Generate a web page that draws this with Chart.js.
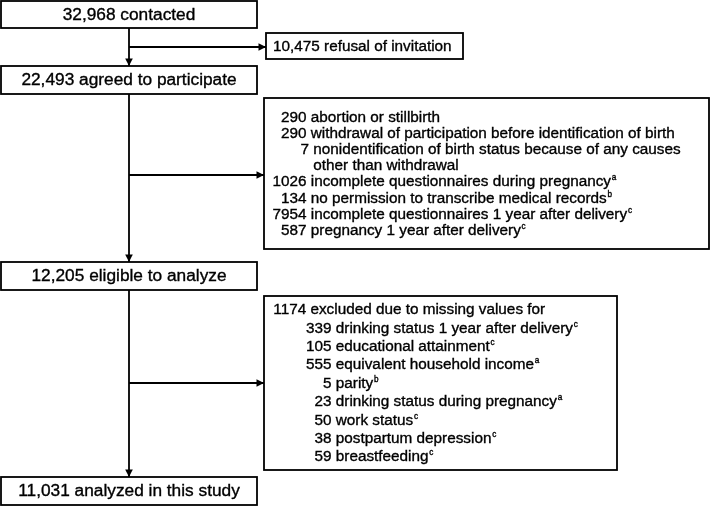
<!DOCTYPE html>
<html>
<head>
<meta charset="utf-8">
<script src="https://cdn.jsdelivr.net/npm/chart.js@4.4.1/dist/chart.umd.min.js"></script>
<style>
  html, body { margin:0; padding:0; background:#fff; }
  #wrap { width:710px; height:506px; }
</style>
</head>
<body>
<div id="wrap"><canvas id="flow" width="710" height="506"></canvas></div>
<script>
// --- data ---
const stepCounts = ['32,968', '22,493', '12,205', '11,031'];
const stepLabels = ['contacted', 'agreed to participate', 'eligible to analyze', 'analyzed in this study'];

const refusalCount = '10,475';
const refusalLabel = 'refusal of invitation';

const excl1Counts = ['290', '290', '7', '', '1026', '134', '7954', '587'];
const excl1Labels = [
  'abortion or stillbirth',
  'withdrawal of participation before identification of birth',
  'nonidentification of birth status because of any causes',
  'other than withdrawal',
  'incomplete questionnaires during pregnancy',
  'no permission to transcribe medical records',
  'incomplete questionnaires 1 year after delivery',
  'pregnancy 1 year after delivery',
];
const excl1Notes = ['', '', '', '', 'a', 'b', 'c', 'c'];

const excl2Total = '1174';
const excl2Title = 'excluded due to missing values for';
const excl2Counts = ['339', '105', '555', '5', '23', '50', '38', '59'];
const excl2Labels = [
  'drinking status 1 year after delivery',
  'educational attainment',
  'equivalent household income',
  'parity',
  'drinking status during pregnancy',
  'work status',
  'postpartum depression',
  'breastfeeding',
];
const excl2Notes = ['c', 'c', 'a', 'b', 'a', 'c', 'c', 'c'];

// --- layout (in scale units, 1 unit = 1px) ---
const W = 710, H = 506;
const spineX = 129;
const stepBoxes = [[1, 1, 257, 28], [1, 66, 257, 94], [1, 262, 257, 290], [1, 477, 257, 505]];
const refusalBox = [266, 33, 463, 59];
const excl1Box = [264, 98, 709, 249];
const excl2Box = [264, 296, 617, 470];
const branchY = [47, 175, 383];

const FONT = 'Arial, "Liberation Sans", Helvetica, sans-serif';
const BIG = 17.3, SMALL = 15.3, SUP = 8.2;

// connectors as line datasets: spine pieces + branches
const connectors = [
  [[spineX, 28], [spineX, 66]],
  [[spineX, 94], [spineX, 262]],
  [[spineX, 290], [spineX, 477]],
  [[spineX, branchY[0]], [refusalBox[0], branchY[0]]],
  [[spineX, branchY[1]], [excl1Box[0], branchY[1]]],
  [[spineX, branchY[2]], [excl2Box[0], branchY[2]]],
];

// slightly heavier text, like the original print
function put(ctx, str, x, y) {
  ctx.fillText(str, x, y);
  ctx.strokeText(str, x, y);
}

function textWithNote(ctx, str, note, x, y) {
  ctx.font = `${SMALL}px ${FONT}`;
  put(ctx, str, x, y);
  if (!note) return;
  const w = ctx.measureText(str).width;
  ctx.font = `${SUP}px ${FONT}`;
  put(ctx, note, x + w + 0.8, y - 4);
}

const flowPlugin = {
  id: 'flow',
  beforeDraw(chart) {
    const c = chart.ctx;
    c.save();
    c.fillStyle = '#fff';
    c.fillRect(0, 0, chart.width, chart.height);
    c.restore();
  },
  afterDatasetsDraw(chart) {
    const c = chart.ctx;
    const xs = chart.scales.x, ys = chart.scales.y;
    const px = v => xs.getPixelForValue(v);
    const py = v => ys.getPixelForValue(v);

    c.save();
    // arrowheads at the end of every connector
    c.fillStyle = '#000';
    chart.data.datasets.forEach((ds, i) => {
      const pts = chart.getDatasetMeta(i).data;
      const a = pts[pts.length - 2], b = pts[pts.length - 1];
      const ang = Math.atan2(b.y - a.y, b.x - a.x);
      const L = 7.5, hw = 3.8;
      c.beginPath();
      c.moveTo(b.x, b.y);
      c.lineTo(b.x - L * Math.cos(ang) + hw * Math.sin(ang), b.y - L * Math.sin(ang) - hw * Math.cos(ang));
      c.lineTo(b.x - L * Math.cos(ang) - hw * Math.sin(ang), b.y - L * Math.sin(ang) + hw * Math.cos(ang));
      c.closePath();
      c.fill();
    });

    // boxes
    c.strokeStyle = '#000';
    c.lineWidth = 1.8;
    [...stepBoxes, refusalBox, excl1Box, excl2Box].forEach(([x0, y0, x1, y1]) => {
      c.strokeRect(px(x0), py(y0), px(x1) - px(x0), py(y1) - py(y0));
    });

    c.fillStyle = '#000';
    c.strokeStyle = '#000';
    c.lineWidth = 0.35;
    c.textBaseline = 'middle';

    // main steps
    c.font = `${BIG}px ${FONT}`;
    c.textAlign = 'center';
    stepBoxes.forEach(([x0, y0, x1, y1], i) => {
      put(c, `${stepCounts[i]} ${stepLabels[i]}`, px((x0 + x1) / 2), py((y0 + y1) / 2) + 0.5);
    });

    // refusal
    c.font = `${SMALL}px ${FONT}`;
    c.textAlign = 'left';
    put(c, `${refusalCount} ${refusalLabel}`, px(273), py((refusalBox[1] + refusalBox[3]) / 2) + 0.5);

    // first exclusion box: counts right aligned, text after
    const num1 = 306.5, line1 = 16.2, top1 = 117.3;
    excl1Labels.forEach((lab, i) => {
      const y = py(top1 + i * line1);
      // the "7" entry and its wrapped line sit a little to the right
      const indent = (excl1Counts[i] === '7' || excl1Counts[i] === '') ? 2.5 : 0;
      c.font = `${SMALL}px ${FONT}`;
      c.textAlign = 'right';
      if (excl1Counts[i]) put(c, excl1Counts[i], px(num1 + indent), y);
      c.textAlign = 'left';
      textWithNote(c, lab, excl1Notes[i], px(num1 + 4.3 + indent), y);
    });

    // second exclusion box
    const top2 = 310, line2 = 18.4, num2 = 331.5;
    c.font = `${SMALL}px ${FONT}`;
    c.textAlign = 'left';
    put(c, `${excl2Total} ${excl2Title}`, px(273.3), py(top2));
    excl2Labels.forEach((lab, i) => {
      const y = py(top2 + (i + 1) * line2);
      c.font = `${SMALL}px ${FONT}`;
      c.textAlign = 'right';
      put(c, excl2Counts[i], px(num2), y);
      c.textAlign = 'left';
      textWithNote(c, lab, excl2Notes[i], px(num2 + 4.3), y);
    });
    c.restore();
  }
};

new Chart(document.getElementById('flow'), {
  type: 'scatter',
  data: {
    datasets: connectors.map(seg => ({
      data: seg.map(([x, y]) => ({ x, y })),
      showLine: true,
      borderColor: '#000',
      borderWidth: 1.8,
      pointRadius: 0,
      clip: false,
    })),
  },
  options: {
    responsive: false,
    animation: false,
    layout: { padding: 0 },
    plugins: { legend: { display: false }, tooltip: { enabled: false } },
    events: [],
    scales: {
      x: { type: 'linear', min: 0, max: W, display: false },
      y: { type: 'linear', min: 0, max: H, reverse: true, display: false },
    },
  },
  plugins: [flowPlugin],
});
</script>
</body>
</html>
